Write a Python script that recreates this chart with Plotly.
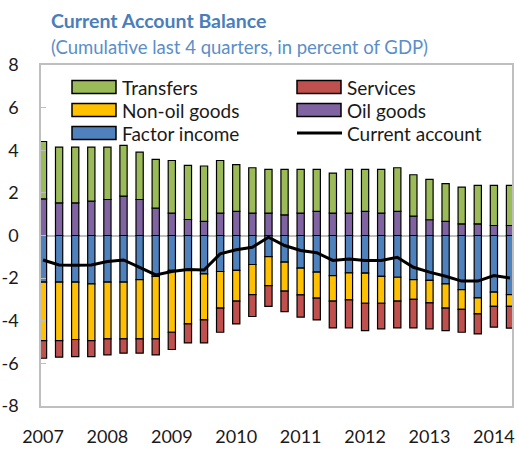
import plotly.graph_objects as go

quarters = [f"{y}Q{q}" for y in range(2007, 2015) for q in range(1, 5)][:30]

transfers = [2.69, 2.62, 2.62, 2.54, 2.46, 2.38, 2.22, 2.29, 2.47, 2.54,
             2.60, 2.47, 2.20, 2.13, 2.05, 2.13, 2.05, 1.97, 1.88, 2.05,
             1.97, 2.05, 2.05, 1.94, 1.89, 1.77, 1.72, 1.80, 1.88, 1.88]
oil_goods = [1.72, 1.53, 1.53, 1.61, 1.69, 1.85, 1.69, 1.28, 1.05, 0.75,
             0.66, 1.05, 1.13, 1.05, 1.05, 0.97, 1.05, 1.13, 1.05, 1.05,
             1.13, 1.05, 1.13, 0.91, 0.74, 0.66, 0.55, 0.55, 0.47, 0.47]
factor_income = [-2.19, -2.19, -2.19, -2.27, -2.19, -2.19, -2.07, -1.92, -1.64, -1.64,
                 -1.80, -1.69, -1.64, -1.36, -0.99, -1.25, -1.53, -1.72, -1.88, -1.75,
                 -1.77, -1.92, -1.96, -2.07, -2.11, -2.27, -2.54, -2.93, -2.66, -2.77]
non_oil_goods = [-2.74, -2.74, -2.69, -2.66, -2.66, -2.66, -2.78, -2.93, -2.90, -2.51,
                 -2.16, -1.72, -1.44, -1.41, -1.36, -1.36, -1.26, -1.22, -1.20, -1.27,
                 -1.41, -1.26, -1.12, -0.93, -1.05, -1.14, -0.93, -0.75, -0.67, -0.56]
services = [-0.83, -0.78, -0.80, -0.75, -0.75, -0.67, -0.67, -0.75, -0.81, -0.89,
            -1.08, -1.13, -1.07, -1.03, -0.98, -0.96, -1.04, -1.02, -1.25, -1.31,
            -1.28, -1.20, -1.25, -1.33, -1.22, -1.05, -1.07, -0.94, -0.97, -1.02]
current_account = [-1.15, -1.38, -1.40, -1.38, -1.22, -1.15, -1.50, -1.85, -1.69, -1.60,
                   -1.62, -0.86, -0.67, -0.55, -0.08, -0.47, -0.70, -0.81, -1.17, -1.10,
                   -1.17, -1.17, -1.02, -1.49, -1.72, -1.91, -2.14, -2.14, -1.88, -1.99]

year_labels = ["2007", "2008", "2009", "2010", "2011", "2012", "2013", "2014"]
y_ticks = [8, 6, 4, 2, 0, -2, -4, -6, -8]
y_tick_labels = ["8", "6", "4", "2", "0", "-2", "-4", "-6", "-8"]

colors = {
    "Transfers": "#9BBB59",
    "Services": "#C0504D",
    "Non-oil goods": "#FFC000",
    "Oil goods": "#8064A2",
    "Factor income": "#4F81BD",
}

x = list(range(len(quarters)))
FONT = "Lato"

fig = go.Figure()
for name, vals in [("Oil goods", oil_goods), ("Transfers", transfers),
                   ("Factor income", factor_income), ("Non-oil goods", non_oil_goods),
                   ("Services", services)]:
    fig.add_trace(go.Bar(x=x, y=vals, name=name, width=0.45,
                         marker=dict(color=colors[name], line=dict(color="black", width=1.2)),
                         showlegend=False, customdata=quarters))
fig.add_trace(go.Scatter(x=x, y=current_account, mode="lines", name="Current account",
                         line=dict(color="black", width=3), showlegend=False))

# pixel geometry of plot area
W, H = 519, 449
L, R, T, B = 41, 512, 65, 406


def px(xp):
    return (xp - L) / (R - L)


def py(yp):
    return (B - yp) / (B - T)


# manual legend (two columns)
legend_items = [
    ("Transfers", 72, 87, "bar"), ("Services", 297, 87, "bar"),
    ("Non-oil goods", 72, 110, "bar"), ("Oil goods", 297, 110, "bar"),
    ("Factor income", 72, 133, "bar"), ("Current account", 297, 133, "line"),
]
shapes = []
annotations = []
for name, lx, ly, kind in legend_items:
    if kind == "bar":
        shapes.append(dict(type="rect", xref="paper", yref="paper",
                           x0=px(lx), x1=px(lx + 44), y0=py(ly + 6.5), y1=py(ly - 6.5),
                           fillcolor=colors[name], line=dict(color="black", width=1.5)))
    else:
        shapes.append(dict(type="line", xref="paper", yref="paper",
                           x0=px(lx), x1=px(lx + 45), y0=py(ly), y1=py(ly),
                           line=dict(color="black", width=3)))
    annotations.append(dict(text=name, xref="paper", yref="paper", x=px(lx + 48), y=py(ly),
                            xanchor="left", yanchor="middle", showarrow=False,
                            font=dict(family=FONT, size=19, color="#1a1a1a")))

annotations.append(dict(text="<b>Current Account Balance</b>", xref="paper", yref="paper",
                        x=px(49), y=py(21), xanchor="left", yanchor="middle", showarrow=False,
                        font=dict(family=FONT, size=19.5, color="#4A7EBB")))
annotations.append(dict(text="(Cumulative last 4 quarters, in percent of GDP)", xref="paper",
                        yref="paper", x=px(49), y=py(47), xanchor="left", yanchor="middle",
                        showarrow=False, font=dict(family=FONT, size=18.5, color="#5B8EC9")))

fig.update_layout(
    width=W, height=H,
    margin=dict(l=L, r=W - R, t=T, b=H - B, pad=0, autoexpand=False),
    barmode="relative",
    bargap=0.5,
    plot_bgcolor="white", paper_bgcolor="white",
    shapes=shapes, annotations=annotations,
    font=dict(family=FONT, size=17, color="#1a1a1a"),
)
fig.update_xaxes(range=[-0.124, 29.124], tickvals=[0, 4, 8, 12, 16, 20, 24, 28],
                 ticktext=year_labels, showgrid=False, zeroline=False, automargin=False,
                 showline=True, linecolor="#BFBFBF", linewidth=1.5, mirror=True,
                 ticks="", ticklabelstandoff=14, tickfont=dict(size=18))
fig.update_yaxes(range=[-8, 8], tickvals=y_ticks, ticktext=y_tick_labels,
                 showgrid=False, automargin=False,
                 zeroline=True, zerolinecolor="#BFBFBF", zerolinewidth=1.5,
                 showline=True, linecolor="#BFBFBF", linewidth=1.5, mirror=True,
                 ticks="inside", ticklen=5, tickcolor="#BFBFBF", tickwidth=1.2,
                 ticklabelstandoff=17, tickfont=dict(size=18))

fig.write_html("out.html", config={"displayModeBar": False},
               post_script="document.body.style.margin='0px';")
